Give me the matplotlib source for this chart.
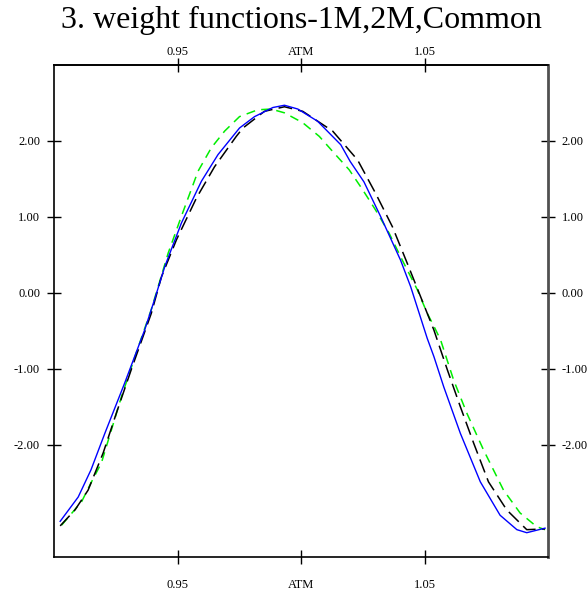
import matplotlib
matplotlib.use("Agg")
import matplotlib.pyplot as plt

# ---- data ----
title = "3. weight functions-1M,2M,Common"
xtick_vals = [0.95, 1.00, 1.05]
xtick_labels = ["0.95", "ATM", "1.05"]
ytick_vals = [-2, -1, 0, 1, 2]
ytick_labels = ["-2.00", "-1.00", "0.00", "1.00", "2.00"]

blue_x = [0.9025, 0.9098, 0.9150, 0.9206, 0.9286, 0.9367, 0.9407, 0.9449, 0.9516, 0.9597, 0.9664,
          0.9751, 0.9812, 0.9886, 0.9933, 0.9987, 1.0067, 1.0161, 1.0199, 1.0255, 1.0323,
          1.0403, 1.0444, 1.0511, 1.0538, 1.0578, 1.0645, 1.0726, 1.0806, 1.0874, 1.0914, 1.0988]
blue_y = [-3.01, -2.69, -2.33, -1.85, -1.19, -0.49, -0.09, 0.35, 0.92, 1.47, 1.82,
          2.17, 2.32, 2.44, 2.47, 2.42, 2.26, 1.95, 1.73, 1.46, 1.00,
          0.43, 0.08, -0.60, -0.84, -1.24, -1.85, -2.49, -2.93, -3.12, -3.16, -3.10]

black_x = [0.9025, 0.9085, 0.9138, 0.9199, 0.9253, 0.9313, 0.9394, 0.9435, 0.9496, 0.9577,
           0.9650, 0.9738, 0.9765, 0.9852, 0.9933, 1.0007, 1.0128, 1.0229, 1.0302, 1.0370,
           1.0430, 1.0484, 1.0538, 1.0592, 1.0645, 1.0699, 1.0759, 1.0833, 1.0914, 1.0988]
black_y = [-3.07, -2.86, -2.60, -2.11, -1.58, -1.01, -0.27, 0.21, 0.70, 1.25,
           1.66, 2.06, 2.17, 2.39, 2.45, 2.39, 2.13, 1.75, 1.31, 0.87,
           0.39, -0.05, -0.49, -1.01, -1.50, -1.98, -2.49, -2.86, -3.12, -3.11]

green_x = [0.9031, 0.9112, 0.9152, 0.9192, 0.9233, 0.9273, 0.9333, 0.9394, 0.9462, 0.9516,
           0.9583, 0.9637, 0.9691, 0.9751, 0.9825, 0.9879, 0.9933, 1.0007, 1.0074, 1.0134,
           1.0195, 1.0249, 1.0302, 1.0356, 1.0410, 1.0471, 1.0511, 1.0538, 1.0565, 1.0618,
           1.0672, 1.0739, 1.0820, 1.0887, 1.0954, 1.0988]
green_y = [-3.06, -2.75, -2.49, -2.24, -1.80, -1.37, -0.79, -0.22, 0.52, 1.01,
           1.60, 1.91, 2.13, 2.32, 2.41, 2.42, 2.37, 2.24, 2.06, 1.84,
           1.62, 1.36, 1.09, 0.79, 0.43, 0.04, -0.27, -0.44, -0.62, -1.15,
           -1.59, -2.07, -2.60, -2.90, -3.08, -3.12]

plt.rcParams['font.family'] = ['Liberation Serif', 'DejaVu Serif']
plt.rcParams['lines.scale_dashes'] = False

fig = plt.figure(figsize=(5.88, 5.95), dpi=100)
ax = fig.add_axes([54/588, 1-557/595, (548-54)/588, (557-65)/595])

ax.plot(green_x, green_y, color='#00ee00', lw=1.1, linestyle=(0, (6.5, 4.5)))
ax.plot(black_x, black_y, color='black', lw=1.1, linestyle=(0, (10, 4.5)))
ax.plot(blue_x, blue_y, color='#0000ff', lw=1.0)

ax.set_xlim(0.90, 1.10)
ax.set_ylim(-3.48, 3.0)

ax.set_xticks(xtick_vals)
ax.set_xticklabels(xtick_labels)
ax.set_yticks(ytick_vals)
ax.set_yticklabels(ytick_labels)

ax.tick_params(axis='both', direction='inout', length=10, width=1.0, labelsize=9)
ax.tick_params(axis='x', bottom=True, top=False, pad=11)
ax.tick_params(axis='y', left=True, right=True, labelleft=True, labelright=True, pad=5)

sec = ax.secondary_xaxis('top')
sec.set_xticks(xtick_vals)
sec.set_xticklabels(xtick_labels)
sec.tick_params(direction='inout', length=10, width=1.0, labelsize=9, pad=0)
sec.spines['top'].set_linewidth(1.2)

for s in ['left', 'bottom', 'top']:
    ax.spines[s].set_linewidth(1.2)
ax.spines['right'].set_linewidth(2.0)
ax.spines['right'].set_color('#505050')

fig.text(301/588, 1-20/595, title, ha='center', va='center', fontsize=23)

fig.savefig('out.png', dpi=100)
